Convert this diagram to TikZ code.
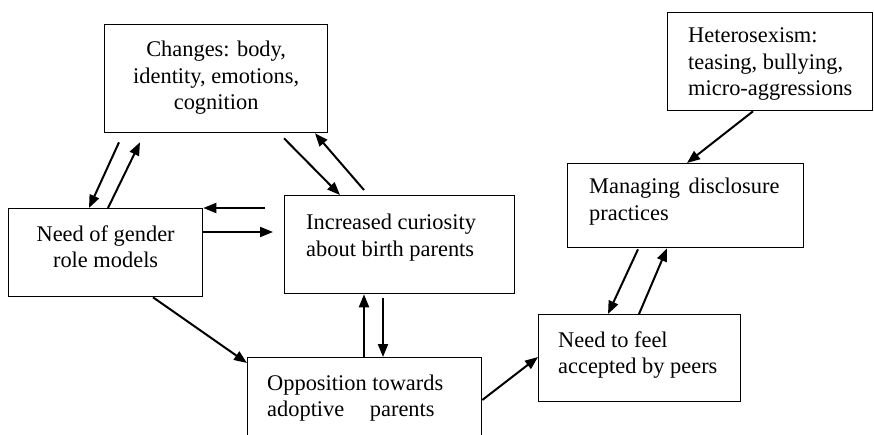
\documentclass[tikz,border=0pt]{standalone}
\usepackage{fontspec}
\setmainfont{Liberation Serif}
\usetikzlibrary{arrows.meta,calc}
\begin{document}
\begin{tikzpicture}[x=1pt,y=-1pt,
  box/.style={draw, line width=1.3pt, inner sep=0pt, anchor=north west},
  txt/.style={font=\fontsize{22.4}{26.5}\selectfont, inner sep=0pt, align=left, anchor=base west},
  ctxt/.style={font=\fontsize{22.4}{26.5}\selectfont, inner sep=0pt, align=center, anchor=base},
  arr/.style={line width=2pt, -{Triangle[length=13pt,width=10pt]}}]
\useasboundingbox (0,0) rectangle (874,435);
\fill[white] (0,0) rectangle (874,435);
\clip (0,0) rectangle (874,435);

% boxes
\node[box, minimum width=223pt, minimum height=108pt] (chg) at (104,24) {};
\node[box, minimum width=194pt, minimum height=88pt]  (need) at (8,208) {};
\node[box, minimum width=230pt, minimum height=98pt]  (cur) at (284,195) {};
\node[box, minimum width=234pt, minimum height=100pt] (opp) at (247,357) {};
\node[box, minimum width=205pt, minimum height=98pt]  (het) at (667,12) {};
\node[box, minimum width=236pt, minimum height=84pt]  (man) at (567,163) {};
\node[box, minimum width=202pt, minimum height=87pt]  (peer) at (538,314) {};

% box texts (anchored at the baseline of the last line)
\node[ctxt] (chgT) at ($(chg.north)+(0,86)$) {Changes: body,\\identity, emotions,\\cognition};
\node[ctxt] (needT) at ($(need.north)+(0,60)$) {Need of gender\\role models};
\node[txt] (curT) at ($(cur.north west)+(22,61.5)$) {Increased curiosity\\about birth parents};
\node[txt] (oppT) at ($(opp.north west)+(20,59.5)$) {Opposition towards\\adoptive\hspace{20pt} parents};
\node[txt] (hetT) at ($(het.north west)+(21,84)$) {Heterosexism:\\teasing, bullying,\\micro-aggressions};
\node[txt] (manT) at ($(man.north west)+(22,57.5)$) {Managing\hspace{3pt} disclosure\\practices};
\node[txt] (peerT) at ($(peer.north west)+(20,59.5)$) {Need to feel\\accepted by peers};

% connectors
\draw[arr] ($(chg.south west)+(15,9)$) -- ($(need.north west)+(81,0)$);
\draw[arr] ($(need.north west)+(100,0)$) -- ($(chg.south west)+(36,9)$);
\draw[arr] ($(chg.south west)+(180,5)$) -- ($(cur.north west)+(56,0)$);
\draw[arr] ($(cur.north west)+(80,-5)$) -- ($(chg.south west)+(211,0)$);
\draw[arr] ($(cur.north west)+(-19,13)$) -- (need.north east);
\draw[arr] ($(need.north east)+(0,24)$) -- ($(cur.north west)+(-11,37)$);
\draw[arr] ($(need.south west)+(145,0)$) -- ($(opp.north west)+(0,6)$);
\draw[arr] ($(opp.north west)+(117,0)$) -- ($(cur.south west)+(80,0)$);
\draw[arr] ($(cur.south west)+(99,4)$) -- ($(opp.north west)+(136,0)$);
\draw[arr] ($(opp.north east)+(0,43)$) -- ($(peer.north west)+(0,43)$);
\draw[arr] ($(man.south west)+(71,1)$) -- ($(peer.north west)+(70,0)$);
\draw[arr] ($(peer.north west)+(101,0)$) -- ($(man.south west)+(100,0)$);
\draw[arr] ($(het.south west)+(86,0)$) -- ($(man.north west)+(120,0)$);
\end{tikzpicture}
\end{document}
